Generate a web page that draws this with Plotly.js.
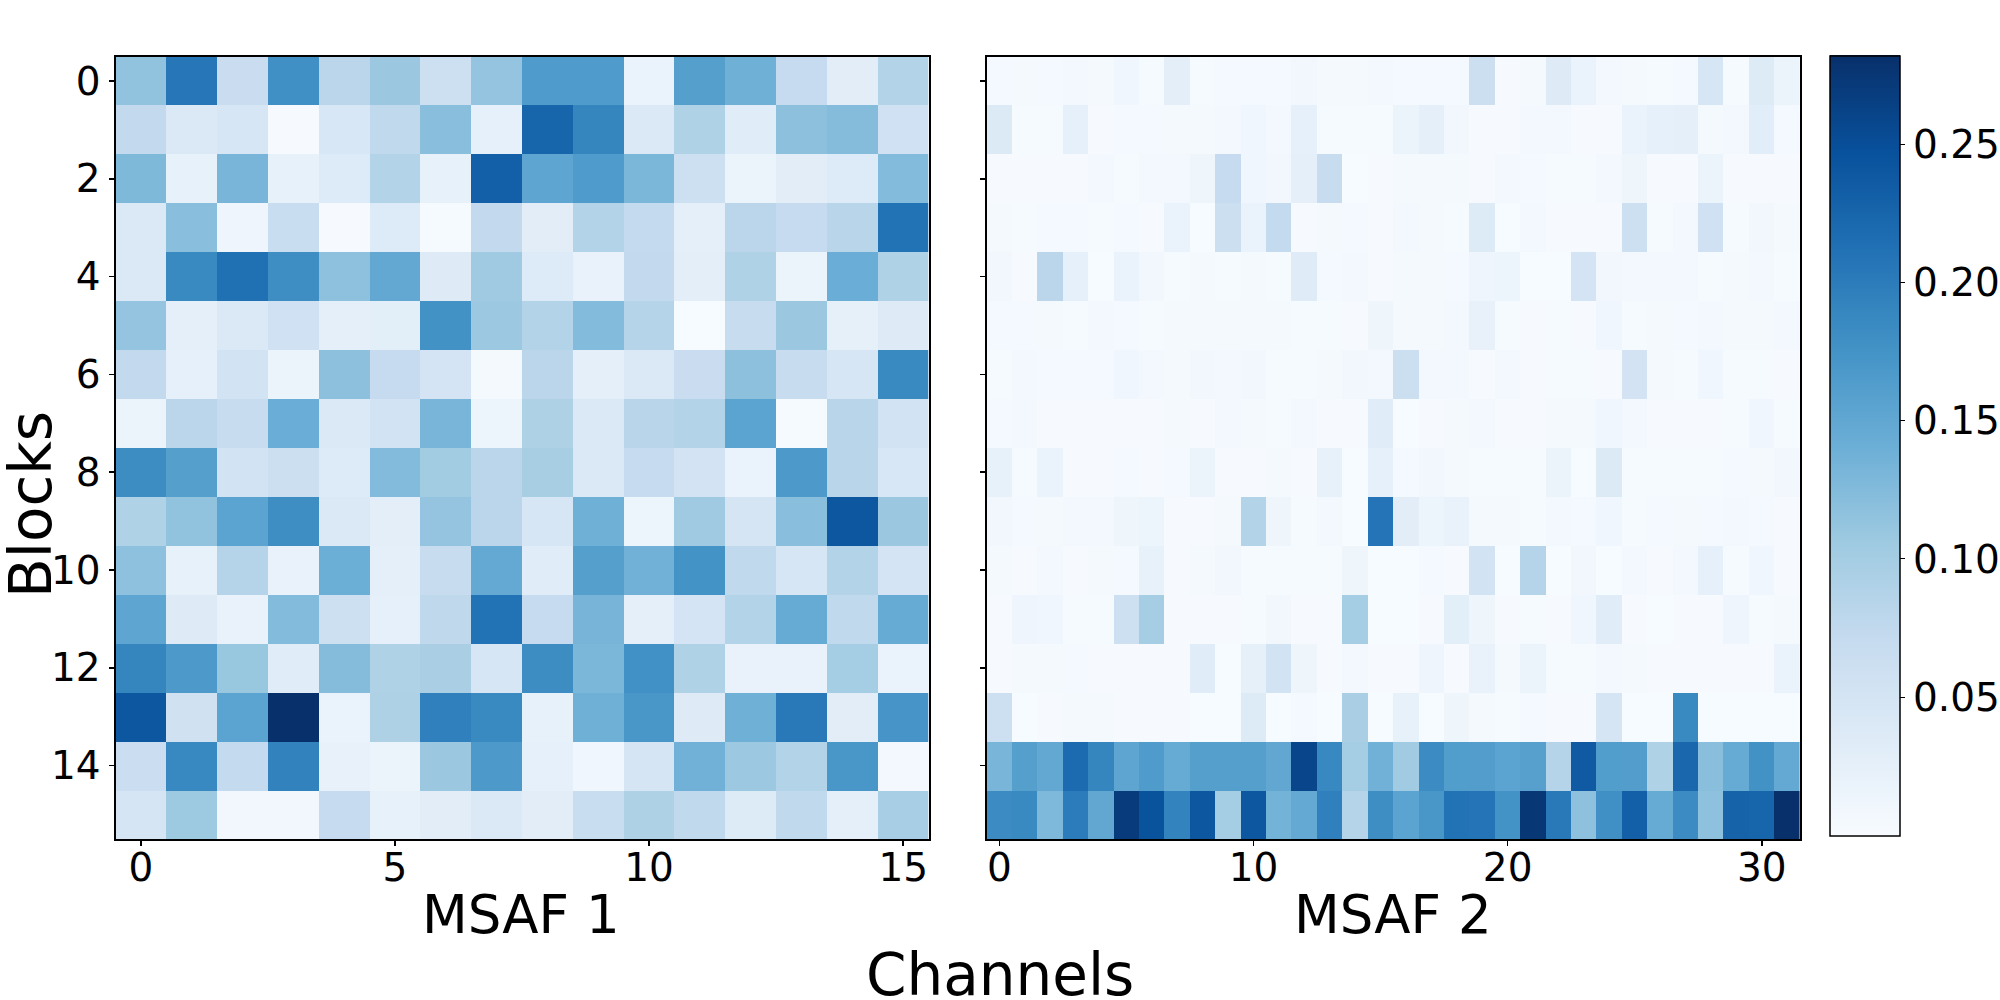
<!DOCTYPE html>
<html>
<head>
<meta charset="utf-8">
<script src="https://cdn.plot.ly/plotly-3.0.1.min.js"></script>
<style>html,body{margin:0;padding:0;background:#fff}#chart{width:2000px;height:1000px}</style>
</head>
<body>
<div id="chart"></div>
<script>
const blocks = [0,1,2,3,4,5,6,7,8,9,10,11,12,13,14,15];
const channels1 = [0,1,2,3,4,5,6,7,8,9,10,11,12,13,14,15];
const channels2 = [0,1,2,3,4,5,6,7,8,9,10,11,12,13,14,15,16,17,18,19,20,21,22,23,24,25,26,27,28,29,30,31];
const msaf1 = [
[.115,.205,.065,.178,.08,.108,.06,.113,.165,.165,.018,.16,.138,.07,.03,.088],
[.073,.04,.047,.002,.045,.075,.12,.024,.225,.19,.04,.09,.032,.118,.123,.058],
[.127,.023,.132,.022,.037,.087,.022,.23,.152,.165,.13,.06,.017,.03,.037,.125],
[.04,.12,.013,.067,.002,.037,.003,.073,.03,.087,.072,.026,.08,.07,.083,.21],
[.04,.185,.213,.18,.117,.148,.035,.105,.037,.02,.073,.028,.09,.016,.142,.09],
[.113,.027,.04,.058,.026,.029,.176,.107,.088,.125,.085,.001,.068,.108,.025,.035],
[.073,.024,.053,.016,.118,.07,.05,.004,.08,.026,.04,.065,.118,.068,.047,.185],
[.016,.08,.068,.142,.04,.053,.132,.014,.092,.04,.083,.087,.155,.003,.083,.053],
[.182,.16,.053,.062,.037,.125,.102,.08,.097,.04,.07,.052,.018,.167,.082,.045],
[.09,.115,.155,.18,.04,.028,.113,.08,.047,.138,.015,.105,.048,.12,.24,.108],
[.117,.023,.085,.02,.14,.026,.068,.147,.033,.16,.137,.175,.075,.047,.088,.05],
[.152,.035,.02,.125,.06,.024,.077,.21,.07,.133,.027,.05,.087,.145,.075,.145],
[.19,.167,.11,.033,.123,.09,.095,.047,.182,.13,.177,.09,.02,.02,.1,.018],
[.24,.056,.155,.282,.018,.092,.195,.185,.023,.138,.17,.035,.138,.203,.03,.172],
[.063,.187,.072,.193,.021,.017,.108,.168,.024,.01,.048,.137,.107,.087,.17,.007],
[.048,.106,.009,.009,.07,.023,.03,.04,.03,.067,.092,.075,.036,.075,.027,.098]
];
const msaf2 = [
[.005,.004,.005,.006,.004,.01,.003,.028,.003,.005,.005,.005,.008,.004,.004,.007,.005,.005,.005,.062,.002,.004,.035,.018,.007,.004,.003,.005,.047,.003,.036,.016],
[.038,.003,.003,.024,.002,.005,.005,.004,.004,.006,.01,.006,.024,.003,.003,.003,.016,.027,.008,.002,.002,.006,.006,.002,.002,.018,.024,.027,.004,.006,.031,.005],
[.002,.002,.002,.002,.007,.003,.006,.006,.012,.07,.011,.008,.027,.068,.001,.002,.004,.004,.004,.002,.006,.005,.003,.003,.006,.012,.002,.002,.017,.002,.002,.002],
[.004,.003,.005,.005,.003,.005,.002,.018,.001,.062,.018,.072,.002,.004,.005,.002,.006,.004,.003,.036,.001,.006,.002,.002,.002,.06,.003,.006,.058,.003,.009,.004],
[.008,.002,.08,.024,.001,.019,.008,.003,.004,.003,.004,.003,.034,.005,.006,.002,.004,.004,.005,.013,.015,.001,.001,.05,.008,.006,.006,.006,.003,.004,.006,.003],
[.005,.005,.004,.003,.007,.005,.003,.004,.004,.004,.004,.004,.003,.003,.002,.012,.004,.004,.006,.021,.003,.002,.003,.002,.01,.003,.004,.005,.006,.004,.004,.007],
[.003,.007,.005,.005,.005,.011,.007,.004,.008,.007,.009,.003,.003,.004,.008,.006,.061,.007,.007,.002,.006,.002,.003,.003,.002,.052,.004,.003,.01,.003,.003,.002],
[.005,.006,.002,.002,.002,.002,.002,.004,.002,.006,.004,.003,.006,.002,.002,.032,.001,.002,.004,.006,.002,.002,.004,.004,.011,.006,.002,.002,.002,.003,.01,.003],
[.023,.003,.018,.002,.002,.005,.002,.005,.017,.002,.002,.004,.002,.023,.001,.024,.005,.008,.004,.003,.003,.003,.017,.001,.038,.003,.003,.003,.003,.005,.004,.008],
[.008,.005,.004,.006,.006,.012,.014,.002,.002,.004,.087,.012,.003,.007,.001,.208,.03,.014,.02,.004,.004,.003,.006,.005,.01,.003,.005,.004,.005,.006,.005,.002],
[.004,.002,.006,.002,.004,.005,.023,.002,.004,.009,.003,.003,.003,.003,.012,.001,.001,.005,.002,.053,.001,.085,.001,.009,.001,.007,.002,.006,.024,.003,.01,.002],
[.002,.013,.011,.003,.003,.06,.1,.002,.002,.002,.003,.008,.002,.002,.1,.001,.001,.002,.029,.012,.002,.003,.002,.011,.032,.002,.001,.002,.002,.013,.003,.004],
[.002,.004,.004,.005,.002,.002,.002,.002,.033,.001,.025,.053,.012,.002,.007,.002,.002,.013,.002,.02,.004,.017,.003,.003,.007,.004,.002,.002,.002,.002,.002,.018],
[.06,.001,.002,.004,.004,.002,.002,.002,.001,.001,.036,.001,.005,.001,.095,.001,.023,.001,.012,.004,.003,.005,.002,.002,.048,.001,.001,.185,.001,.001,.001,.001],
[.132,.16,.148,.218,.19,.152,.165,.145,.16,.16,.16,.15,.26,.187,.1,.137,.103,.183,.163,.162,.155,.158,.085,.237,.163,.162,.09,.222,.12,.145,.176,.147],
[.183,.185,.128,.2,.15,.27,.245,.192,.24,.1,.24,.135,.147,.195,.085,.18,.155,.17,.21,.208,.175,.275,.203,.117,.178,.23,.145,.183,.117,.227,.225,.282]
];
const blockTicks = [0,2,4,6,8,10,12,14];
const channelTicks1 = [0,5,10,15];
const channelTicks2 = [0,10,20,30];
const colorTicks = [0.05,0.10,0.15,0.20,0.25];
const colorTickLabels = ['0.05','0.10','0.15','0.20','0.25'];
const blues = [[0,'#f7fbff'],[0.125,'#deebf7'],[0.25,'#c6dbef'],[0.375,'#9ecae1'],[0.5,'#6baed6'],[0.625,'#4292c6'],[0.75,'#2171b5'],[0.875,'#08519c'],[1,'#08306b']];

const W = 2000, H = 1000;
const FONT = '"DejaVu Sans", sans-serif';
const fx = p => p / W, fy = p => 1 - p / H;
const axisBase = {showline:true, mirror:true, linecolor:'#000', linewidth:2, showgrid:false, zeroline:false,
  ticks:'outside', ticklen:5, tickwidth:1.5, tickcolor:'#000', tickfont:{family:FONT,size:39,color:'#000'}};
const xLabelShift = -12;

const data = [
 {type:'heatmap', x:channels1, y:blocks, z:msaf1, coloraxis:'coloraxis', xaxis:'x', yaxis:'y', zsmooth:false},
 {type:'heatmap', x:channels2, y:blocks, z:msaf2, coloraxis:'coloraxis', xaxis:'x2', yaxis:'y2', zsmooth:false}
];
const titleAnn = (text, px, py, size, rot) => ({text, xref:'paper', yref:'paper', x:fx(px), y:fy(py), xanchor:'center', yanchor:'middle',
   showarrow:false, textangle:rot||0, font:{family:FONT,size,color:'#000'}});
const layout = {
 width:W, height:H, margin:{l:0,r:0,t:0,b:0,pad:0,autoexpand:false}, paper_bgcolor:'#fff', plot_bgcolor:'#fff',
 font:{family:FONT,color:'#000'},
 xaxis:{...axisBase, domain:[fx(115.5),fx(928.6)], range:[-0.5,15.5], tickmode:'array', tickvals:channelTicks1, ticktext:channelTicks1.map(String), ticklabelstandoff:xLabelShift, anchor:'y'},
 yaxis:{...axisBase, domain:[fy(839),fy(56.5)], range:[15.5,-0.5], tickmode:'array', tickvals:blockTicks, ticktext:blockTicks.map(String), anchor:'x'},
 xaxis2:{...axisBase, domain:[fx(986.6),fx(1800)], range:[-0.5,31.5], tickmode:'array', tickvals:channelTicks2, ticktext:channelTicks2.map(String), ticklabelstandoff:xLabelShift, anchor:'y2'},
 yaxis2:{...axisBase, domain:[fy(839),fy(56.5)], range:[15.5,-0.5], tickmode:'array', tickvals:blockTicks, showticklabels:false, anchor:'x2'},
 coloraxis:{cmin:0, cmax:0.282, colorscale:blues, colorbar:{
   x:fx(1830.3), xanchor:'left', xpad:0, y:fy(835.5), yanchor:'bottom', ypad:0, len:0.78, lenmode:'fraction',
   thickness:70.4, thicknessmode:'pixels', outlinecolor:'#000', outlinewidth:1.5,
   ticks:'outside', ticklen:5, tickwidth:1, tickcolor:'#000', tickmode:'array', tickvals:colorTicks, ticktext:colorTickLabels,
   tickfont:{family:FONT,size:39,color:'#000'}}},
 annotations:[
   titleAnn('MSAF 1', 521, 914, 53),
   titleAnn('MSAF 2', 1393, 914, 53),
   titleAnn('Blocks', 31, 505, 58, -90),
   titleAnn('Channels', 1000, 975, 58)
 ]
};
Plotly.newPlot('chart', data, layout, {displayModeBar:false, staticPlot:true});
</script>
</body>
</html>
